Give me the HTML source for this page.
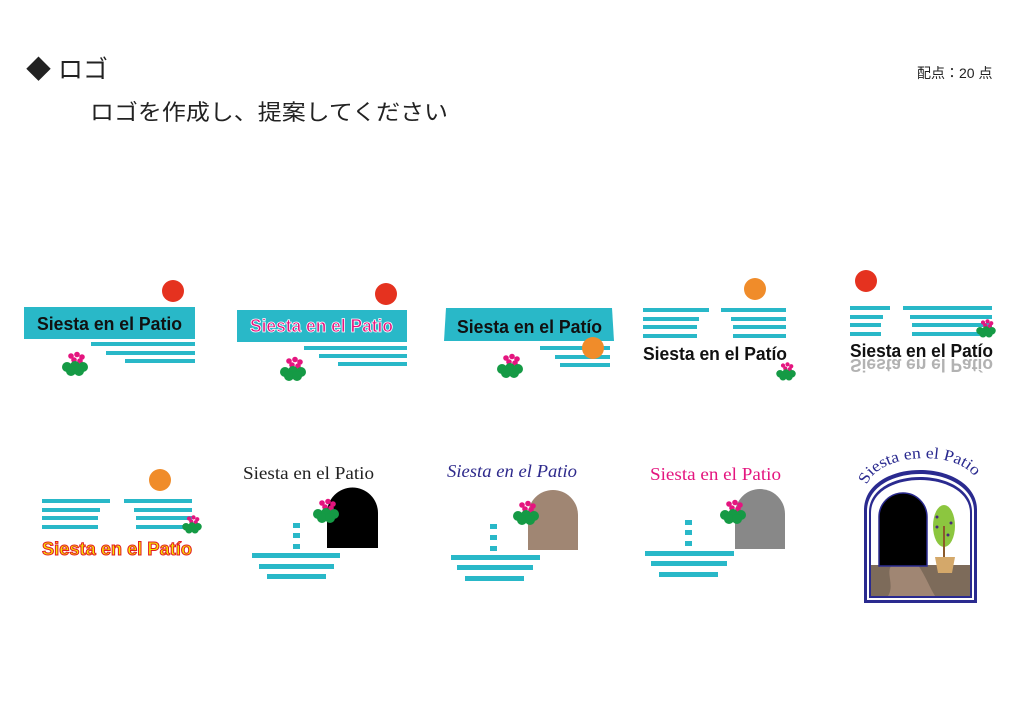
<!DOCTYPE html>
<html><head><meta charset="utf-8"><style>html,body{margin:0;padding:0;background:#fff}svg{display:block}</style></head>
<body>
<svg width="1024" height="723" viewBox="0 0 1024 723" xmlns="http://www.w3.org/2000/svg">
<defs>
<g id="fl">
<circle cx="-4" cy="-10" r="2.8" fill="#e4157f"/><circle cx="2" cy="-11.5" r="2.8" fill="#e4157f"/><circle cx="7" cy="-9" r="2.8" fill="#e4157f"/><circle cx="-1" cy="-6" r="2.8" fill="#e4157f"/><circle cx="5" cy="-5" r="2.8" fill="#e4157f"/>
<circle cx="-8" cy="1" r="5" fill="#159a45"/><circle cx="0" cy="0" r="5" fill="#159a45"/><circle cx="8" cy="1" r="5" fill="#159a45"/><circle cx="-4" cy="5" r="5" fill="#159a45"/><circle cx="4" cy="5" r="5" fill="#159a45"/>
</g>
</defs>
<g font-family="'Liberation Sans','Noto Sans CJK JP',sans-serif" fill="#222">
<text x="26" y="78" font-size="25">◆ ロゴ</text>
<text x="90" y="120" font-size="22" textLength="358" lengthAdjust="spacingAndGlyphs">ロゴを作成し、提案してください</text>
<text x="917" y="78" font-size="14">配点：20 点</text>
</g>
<g fill="#29b8c8">
<rect x="24" y="307" width="171" height="32"/>
<rect x="91" y="342" width="104" height="4"/><rect x="106" y="351" width="89" height="4"/><rect x="125" y="359" width="70" height="4"/>
<rect x="237" y="310" width="170" height="32"/>
<rect x="304" y="346" width="103" height="4"/><rect x="319" y="354" width="88" height="4"/><rect x="338" y="362" width="69" height="4"/>
<polygon points="446,308 612,308 614,341 444,341"/>
<rect x="540" y="346" width="70" height="4"/><rect x="555" y="355" width="55" height="4"/><rect x="560" y="363" width="50" height="4"/>
<rect x="643" y="308" width="66" height="4"/><rect x="643" y="317" width="56" height="4"/><rect x="643" y="325" width="54" height="4"/><rect x="643" y="334" width="54" height="4"/>
<rect x="721" y="308" width="65" height="4"/><rect x="731" y="317" width="55" height="4"/><rect x="733" y="325" width="53" height="4"/><rect x="733" y="334" width="53" height="4"/>
<rect x="850" y="306" width="40" height="4"/><rect x="850" y="315" width="33" height="4"/><rect x="850" y="323" width="31" height="4"/><rect x="850" y="332" width="31" height="4"/>
<rect x="903" y="306" width="89" height="4"/><rect x="910" y="315" width="82" height="4"/><rect x="912" y="323" width="80" height="4"/><rect x="912" y="332" width="80" height="4"/>
<rect x="42" y="499" width="68" height="4"/><rect x="42" y="508" width="58" height="4"/><rect x="42" y="516" width="56" height="4"/><rect x="42" y="525" width="56" height="4"/>
<rect x="124" y="499" width="68" height="4"/><rect x="134" y="508" width="58" height="4"/><rect x="136" y="516" width="56" height="4"/><rect x="136" y="525" width="56" height="4"/>
<rect x="293" y="523" width="7" height="5"/><rect x="293" y="533" width="7" height="5"/><rect x="293" y="544" width="7" height="5"/>
<rect x="252" y="553" width="88" height="5"/><rect x="259" y="564" width="75" height="5"/><rect x="267" y="574" width="59" height="5"/>
<rect x="490" y="524" width="7" height="5"/><rect x="490" y="535" width="7" height="5"/><rect x="490" y="546" width="7" height="5"/>
<rect x="451" y="555" width="89" height="5"/><rect x="457" y="565" width="76" height="5"/><rect x="465" y="576" width="59" height="5"/>
<rect x="685" y="520" width="7" height="5"/><rect x="685" y="530" width="7" height="5"/><rect x="685" y="541" width="7" height="5"/>
<rect x="645" y="551" width="89" height="5"/><rect x="651" y="561" width="76" height="5"/><rect x="659" y="572" width="59" height="5"/>
</g>
<circle cx="173" cy="291" r="11" fill="#e5321f"/>
<circle cx="386" cy="294" r="11" fill="#e5321f"/>
<circle cx="593" cy="348" r="11" fill="#f08c2a"/>
<circle cx="755" cy="289" r="11" fill="#f08c2a"/>
<circle cx="866" cy="281" r="11" fill="#e5321f"/>
<circle cx="160" cy="480" r="11" fill="#f08c2a"/>
<g font-family="'Liberation Sans',sans-serif" font-weight="bold" font-size="18">
<text x="37" y="330" fill="#111" textLength="145" lengthAdjust="spacingAndGlyphs">Siesta en el Patio</text>
<text x="250" y="332" fill="#e4157f" stroke="#fff" stroke-width="0.8" textLength="143" lengthAdjust="spacingAndGlyphs">Siesta en el Patio</text>
<text x="457" y="333" fill="#111" textLength="145" lengthAdjust="spacingAndGlyphs">Siesta en el Patío</text>
<text x="643" y="360" fill="#111" textLength="144" lengthAdjust="spacingAndGlyphs">Siesta en el Patío</text>
<text x="850" y="357" fill="#111" textLength="143" lengthAdjust="spacingAndGlyphs">Siesta en el Patío</text>
<text x="850" y="-359" fill="#999" opacity="0.75" transform="scale(1,-1)" textLength="143" lengthAdjust="spacingAndGlyphs">Siesta en el Patío</text>
<text x="42" y="555" fill="#f4e300" stroke="#e31b23" stroke-width="1" textLength="150" lengthAdjust="spacingAndGlyphs">Siesta en el Patío</text>
</g>
<g font-family="'Liberation Serif',serif" font-size="18">
<text x="243" y="479" fill="#222" textLength="131" lengthAdjust="spacingAndGlyphs">Siesta en el Patio</text>
<text x="447" y="477" fill="#2e2a8c" font-style="italic" textLength="130" lengthAdjust="spacingAndGlyphs">Siesta en el Patio</text>
<text x="650" y="480" fill="#e4157f" textLength="131" lengthAdjust="spacingAndGlyphs">Siesta en el Patio</text>
</g>
<path d="M327,548 V513 A25.5,25.5 0 0 1 378,513 V548 Z" fill="#000"/>
<path d="M528,550 V515 A25,25 0 0 1 578,515 V550 Z" fill="#a08673"/>
<path d="M735,549 V514 A25,25 0 0 1 785,514 V549 Z" fill="#888"/>
<use href="#fl" x="75" y="366"/>
<use href="#fl" x="293" y="371"/>
<use href="#fl" x="510" y="368"/>
<use href="#fl" x="786" y="373" transform="translate(786 373) scale(0.75) translate(-786 -373)"/>
<use href="#fl" x="986" y="330" transform="translate(986 330) scale(0.75) translate(-986 -330)"/>
<use href="#fl" x="192" y="526" transform="translate(192 526) scale(0.75) translate(-192 -526)"/>
<use href="#fl" x="326" y="513"/>
<use href="#fl" x="526" y="515"/>
<use href="#fl" x="733" y="514"/>
<path d="M864,603 V510 C864,485 890,470 920,470 C950,470 977,485 977,510 V603 Z" fill="#2a2a8f"/>
<path d="M867,600 V511 C867,488 892,474 920,474 C948,474 974,488 974,511 V600 Z" fill="#fff"/>
<path d="M869,598 V512 C869,490 893,477 920,477 C947,477 972,490 972,512 V598 Z" fill="#2a2a8f"/>
<path d="M871,596 V513 C871,492 894,480 920,480 C946,480 970,492 970,513 V596 Z" fill="#fff"/>
<rect x="871" y="565" width="99" height="31" fill="#7d6b5a"/>
<path d="M888,596 C895,585 885,572 892,565 L918,565 C925,575 930,588 935,596 Z" fill="#a08673"/>
<path d="M879,566 V517 A24,24 0 0 1 927,517 V566 Z" fill="#000" stroke="#2a2a8f" stroke-width="1.5"/>
<ellipse cx="944" cy="526" rx="11" ry="21" fill="#8cc63f"/>
<rect x="943" y="526" width="2" height="32" fill="#8b5a2b"/>
<circle cx="937" cy="517" r="1.5" fill="#4a2a7a"/><circle cx="951" cy="523" r="1.5" fill="#4a2a7a"/><circle cx="937" cy="527" r="1.5" fill="#4a2a7a"/><circle cx="948" cy="535" r="1.5" fill="#4a2a7a"/>
<path d="M935,557 H955 L952,573 H938 Z" fill="#d4a86a"/>
<path id="arc" d="M867,485 C878,452 962,448 977,481" fill="none"/>
<text font-family="'Liberation Serif',serif" font-size="16" fill="#2a2a8f"><textPath href="#arc" textLength="122" lengthAdjust="spacingAndGlyphs">Siesta en el Patio</textPath></text>
</svg>
</body></html>
